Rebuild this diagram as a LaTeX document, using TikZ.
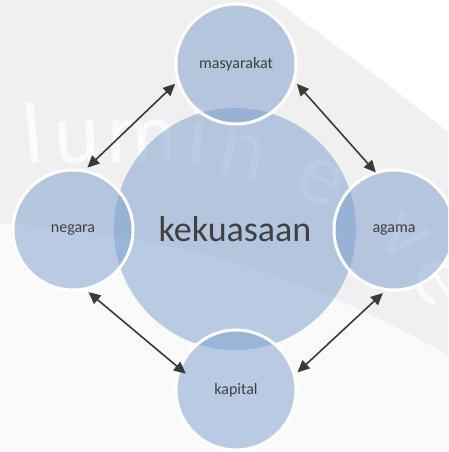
\documentclass[tikz,border=0pt]{standalone}
\usepackage{fontspec}
\setmainfont{Carlito}
\usetikzlibrary{arrows.meta}

\definecolor{circblue}{RGB}{125,161,205}
\definecolor{txtgray}{RGB}{64,64,64}
\definecolor{arrgray}{RGB}{58,58,58}
\definecolor{bggray}{RGB}{240,240,240}
\definecolor{bglight}{RGB}{250,250,250}

\tikzset{every picture/.style={line width=0.75pt}}
\tikzset{
  bigcirc/.style={circle, fill=circblue, fill opacity=0.52, text opacity=1,
    minimum size=242pt, inner sep=0pt, text=txtgray, font=\fontsize{36}{40}\selectfont},
  smallcirc/.style={circle, fill=circblue, fill opacity=0.52, text opacity=1,
    draw=white, draw opacity=1, line width=3pt, minimum size=120pt, inner sep=0pt,
    outer sep=4pt, text=txtgray, font=\fontsize{16}{18}\selectfont},
  link/.style={{Triangle[length=12pt,width=11pt]}-{Triangle[length=12pt,width=11pt]},
    color=arrgray, line width=1.6pt},
  wmark/.style={anchor=base west, text=white, text opacity=0.75, font=\fontsize{88}{88}\selectfont},
}

\begin{document}
\begin{tikzpicture}[x=1pt, y=1pt]
    \useasboundingbox (0,0) rectangle (448,452);
    \clip (0,0) rectangle (448,452);
    % background and watermark
    \fill[bggray] (0,0) rectangle (448,452);
    \fill[bglight] (0,0) -- (0,229) .. controls (150,217) and (280,192) .. (448,97) -- (448,0) -- cycle;
    \fill[white] (275,452) .. controls (330,410) and (400,360) .. (448,320) -- (448,452) -- cycle;
    \foreach \ch/\x/\y/\r in {l/22/287/5, u/52/287/3, m/103/289/0, i/182/287/-5,
                              n/212/280/-12, e/288/262/-25, v/372/214/-40, e/405/180/-55}
        \node[wmark, rotate=\r] at (\x,\y) {\ch};

    % circles
    \node[bigcirc] (kek) at (235,223) {kekuasaan};
    \node[smallcirc] (masy) at (236,388) {masyarakat};
    \node[smallcirc] (neg) at (73,222) {negara};
    \node[smallcirc] (agama) at (394,222) {agama};
    \node[smallcirc] (kap) at (236,62) {kapital};

    % arrows
    \draw[link] (masy.198) -- (neg.77);
    \draw[link, shorten >=-4pt] (masy.342) -- (agama.109);
    \draw[link] (agama.260) -- (kap.16);
    \draw[link, shorten >=-12pt] (neg.284) -- (kap.158);
\end{tikzpicture}
\end{document}
